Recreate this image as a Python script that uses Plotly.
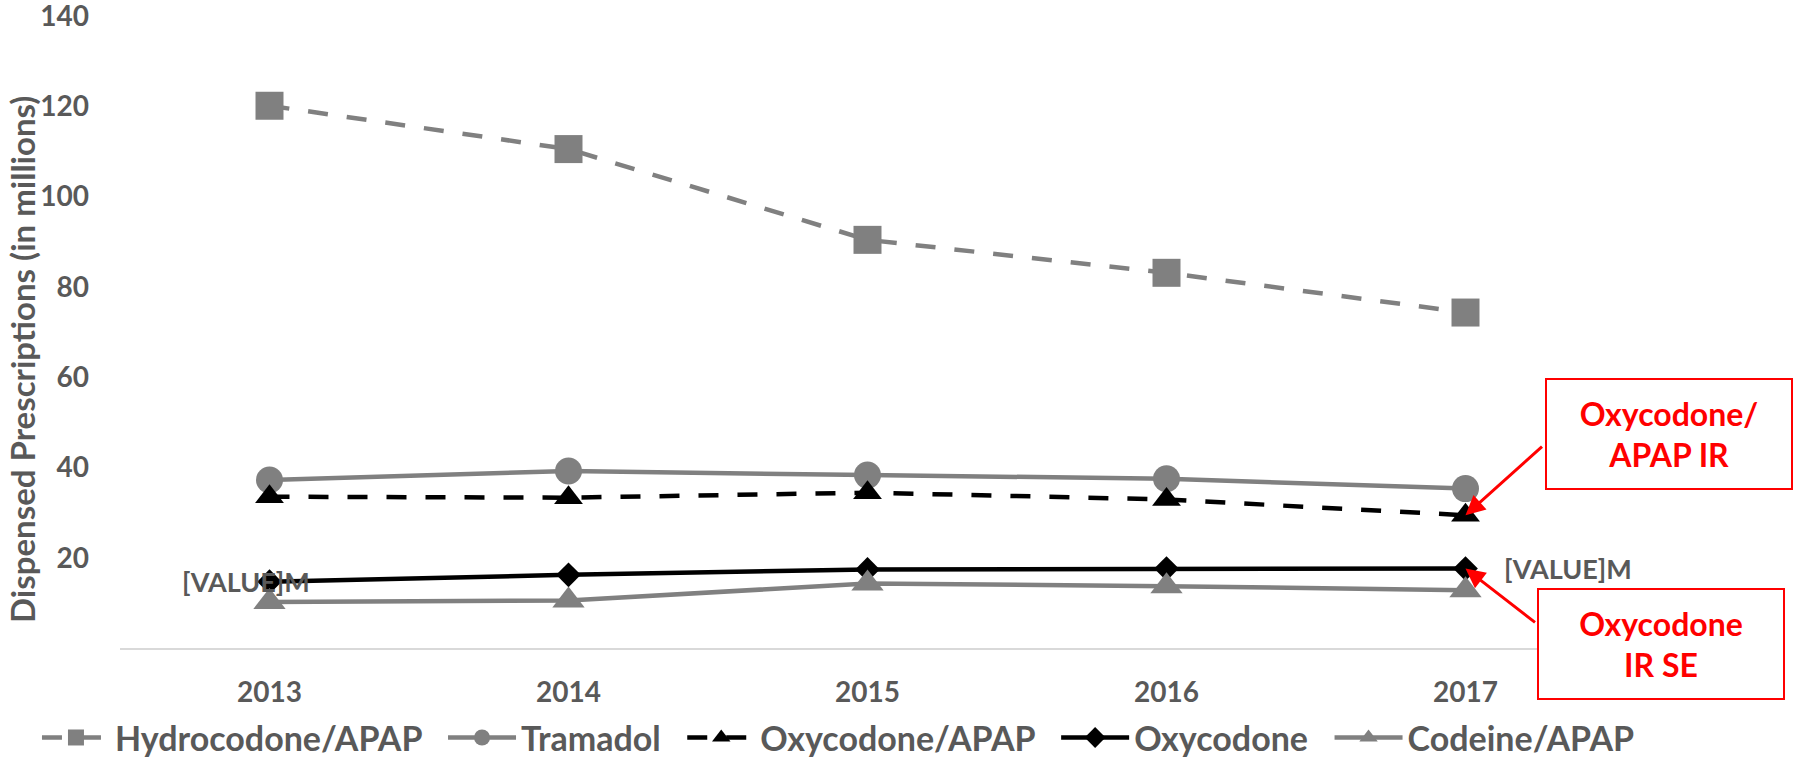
import plotly.graph_objects as go

# Dispensed prescriptions by year (millions)
years = [2013, 2014, 2015, 2016, 2017]
hydrocodone_apap = [120.1, 110.5, 90.4, 83.1, 74.3]
tramadol = [37.2, 39.2, 38.3, 37.5, 35.3]
oxycodone_apap = [33.5, 33.3, 34.4, 32.9, 29.4]
oxycodone = [14.7, 16.2, 17.4, 17.6, 17.6]
codeine_apap = [10.2, 10.5, 14.3, 13.7, 12.8]
y_ticks = [20, 40, 60, 80, 100, 120, 140]

FONT = "Lato"
GREY = "#808080"
TEXT = "#595959"
RED = "#FF0000"
PAD = "\u00a0\u00a0"  # spacing after each legend entry

series = [
    ("Hydrocodone/APAP" + PAD, hydrocodone_apap, GREY, "20px,19px", "square", 28),
    ("Tramadol" + PAD, tramadol, GREY, "solid", "circle", 27),
    ("Oxycodone/APAP" + PAD, oxycodone_apap, "#000000", "20px,19px", "triangle-up", 25),
    ("Oxycodone" + PAD, oxycodone, "#000000", "solid", "diamond", 19),
    ("Codeine/APAP", codeine_apap, GREY, "solid", "triangle-up", 28),
]

fig = go.Figure()
for name, vals, color, dash, symbol, size in series:
    fig.add_trace(go.Scatter(
        x=years, y=vals, name=name, mode="lines+markers",
        line=dict(color=color, width=4.5, dash=dash),
        marker=dict(symbol=symbol, size=size, color=color),
    ))

label_font = dict(family=FONT, size=27, color=TEXT, weight="bold")
callout_font = dict(family=FONT, size=32, color=RED, weight="bold")

annotations = [
    # y-axis title
    dict(text="Dispensed Prescriptions (in millions)", textangle=-90,
         xref="paper", yref="paper", x=0, y=0.455, xshift=-98,
         xanchor="center", yanchor="middle", showarrow=False,
         font=dict(family=FONT, size=33, color=TEXT, weight="bold")),
    # data labels on the Oxycodone series
    dict(text="[VALUE]M", x=years[0], y=oxycodone[0], xref="x", yref="y",
         xshift=-24, xanchor="center", yanchor="middle", showarrow=False,
         font=label_font),
    dict(text="[VALUE]M", x=years[-1], y=oxycodone[-1], xref="x", yref="y",
         xshift=36, xanchor="left", yanchor="middle", showarrow=False,
         font=label_font),
    # callout boxes
    dict(text="Oxycodone/<br>APAP IR", xref="paper", yref="paper",
         x=1.036, y=0.338, xanchor="center", yanchor="middle",
         showarrow=False, width=240, height=104,
         bordercolor=RED, borderwidth=2, borderpad=2, bgcolor="white",
         font=callout_font),
    dict(text="Oxycodone<br>IR SE", xref="paper", yref="paper",
         x=1.031, y=0.006, xanchor="center", yanchor="middle",
         showarrow=False, width=240, height=104,
         bordercolor=RED, borderwidth=2, borderpad=2, bgcolor="white",
         font=callout_font),
    # callout arrows
    dict(text="", x=years[-1], y=oxycodone_apap[-1], xref="x", yref="y",
         ax=78, ay=-70, showarrow=True, arrowhead=2, arrowsize=1.3,
         arrowwidth=3, arrowcolor=RED),
    dict(text="", x=years[-1], y=oxycodone[-1], xref="x", yref="y",
         ax=71, ay=55, showarrow=True, arrowhead=2, arrowsize=1.3,
         arrowwidth=3, arrowcolor=RED),
]

fig.update_layout(
    width=1794, height=758,
    margin=dict(l=120, r=179, t=15, b=110, autoexpand=False),
    paper_bgcolor="white", plot_bgcolor="white",
    font=dict(family=FONT, color=TEXT),
    showlegend=True,
    legend=dict(orientation="h", x=1.0167, xanchor="right",
                y=-0.142, yanchor="middle",
                itemwidth=68, bgcolor="rgba(0,0,0,0)",
                font=dict(family=FONT, size=34, color=TEXT, weight="bold")),
    xaxis=dict(range=[years[0] - 0.5, years[-1] + 0.5], tickvals=years,
               showgrid=False, zeroline=False, automargin=False,
               showline=True, linecolor="#D9D9D9", linewidth=2,
               ticks="", ticklabelstandoff=18, ticklabeloverflow="allow",
               tickfont=dict(family=FONT, size=28, color=TEXT, weight="bold")),
    yaxis=dict(range=[0, 140.2], tickvals=y_ticks, showgrid=False,
               zeroline=False, showline=False, ticks="", automargin=False,
               ticklabelstandoff=30, ticklabeloverflow="allow",
               tickfont=dict(family=FONT, size=28, color=TEXT, weight="bold")),
    annotations=annotations,
)

fig.write_html("out.html")
